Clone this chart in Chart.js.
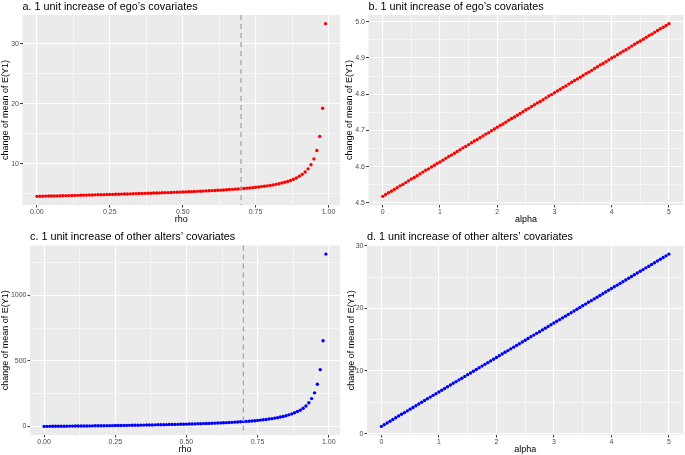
<!DOCTYPE html>
<html><head><meta charset="utf-8">
<script src="https://cdn.jsdelivr.net/npm/chart.js@4/dist/chart.umd.min.js"></script>
<style>
html,body{margin:0;padding:0;background:#fff;}
#wrap{position:relative;width:685px;height:455px;overflow:hidden;background:#fff;}
canvas{position:absolute;}
</style></head><body>
<div id="wrap">
<canvas id="cA" width="343" height="228" style="left:0px;top:0px;width:343px;height:228px"></canvas>
<canvas id="cB" width="342" height="228" style="left:343px;top:0px;width:342px;height:228px"></canvas>
<canvas id="cC" width="343" height="227" style="left:0px;top:228px;width:343px;height:227px"></canvas>
<canvas id="cD" width="342" height="227" style="left:343px;top:228px;width:342px;height:227px"></canvas>
</div>
<script>
// ---------------- data ----------------
const rhoValues = [0.00,0.01,0.02,0.03,0.04,0.05,0.06,0.07,0.08,0.09,
  0.10,0.11,0.12,0.13,0.14,0.15,0.16,0.17,0.18,0.19,
  0.20,0.21,0.22,0.23,0.24,0.25,0.26,0.27,0.28,0.29,
  0.30,0.31,0.32,0.33,0.34,0.35,0.36,0.37,0.38,0.39,
  0.40,0.41,0.42,0.43,0.44,0.45,0.46,0.47,0.48,0.49,
  0.50,0.51,0.52,0.53,0.54,0.55,0.56,0.57,0.58,0.59,
  0.60,0.61,0.62,0.63,0.64,0.65,0.66,0.67,0.68,0.69,
  0.70,0.71,0.72,0.73,0.74,0.75,0.76,0.77,0.78,0.79,
  0.80,0.81,0.82,0.83,0.84,0.85,0.86,0.87,0.88,0.89,
  0.90,0.91,0.92,0.93,0.94,0.95,0.96,0.97,0.98,0.99];

const egoByRho = [4.52,4.53,4.54,4.56,4.57,4.58,4.59,4.60,4.62,4.63,
  4.64,4.65,4.67,4.68,4.69,4.70,4.72,4.73,4.74,4.76,
  4.77,4.78,4.80,4.81,4.82,4.84,4.85,4.87,4.88,4.90,
  4.91,4.92,4.94,4.95,4.97,4.99,5.00,5.02,5.03,5.05,
  5.07,5.08,5.10,5.12,5.14,5.15,5.17,5.19,5.21,5.23,
  5.25,5.27,5.29,5.31,5.33,5.36,5.38,5.40,5.43,5.45,
  5.48,5.51,5.53,5.56,5.59,5.63,5.66,5.69,5.73,5.76,
  5.80,5.84,5.89,5.93,5.98,6.04,6.09,6.15,6.21,6.28,
  6.36,6.44,6.53,6.63,6.75,6.87,7.01,7.18,7.37,7.59,
  7.88,8.20,8.60,9.12,9.80,10.78,12.18,14.52,19.25,33.40];

const altersByRho = [1.1,1.3,1.5,1.7,2.0,2.2,2.4,2.7,2.9,3.1,
  3.4,3.6,3.9,4.1,4.4,4.6,4.9,5.2,5.4,5.7,
  6.0,6.3,6.6,6.9,7.2,7.5,7.8,8.1,8.5,8.8,
  9.2,9.5,9.9,10.2,10.6,11.0,11.4,11.8,12.2,12.7,
  13.1,13.6,14.0,14.5,15.0,15.5,16.0,16.6,17.1,17.7,
  18.3,18.9,19.6,20.2,20.9,21.6,22.4,23.2,24.0,24.8,
  25.7,26.6,27.6,28.6,29.7,30.8,32.0,33.3,34.6,36.0,
  37.5,39.1,40.8,42.6,44.6,46.7,49.0,51.5,54.1,57.1,
  60.3,63.9,67.8,72.2,77.1,82.7,89.1,96.4,104.9,115.0,
  125.0,139.0,157.0,181.0,213.0,257.0,323.0,434.0,655.0,1316.0];

const alphaValues = [0,0.05,0.1,0.15,0.2,0.25,0.3,0.35,0.4,0.45,
  0.5,0.55,0.6,0.65,0.7,0.75,0.8,0.85,0.9,0.95,
  1,1.05,1.1,1.15,1.2,1.25,1.3,1.35,1.4,1.45,
  1.5,1.55,1.6,1.65,1.7,1.75,1.8,1.85,1.9,1.95,
  2,2.05,2.1,2.15,2.2,2.25,2.3,2.35,2.4,2.45,
  2.5,2.55,2.6,2.65,2.7,2.75,2.8,2.85,2.9,2.95,
  3,3.05,3.1,3.15,3.2,3.25,3.3,3.35,3.4,3.45,
  3.5,3.55,3.6,3.65,3.7,3.75,3.8,3.85,3.9,3.95,
  4,4.05,4.1,4.15,4.2,4.25,4.3,4.35,4.4,4.45,
  4.5,4.55,4.6,4.65,4.7,4.75,4.8,4.85,4.9,4.95,5];

const egoByAlpha = [4.518,4.523,4.528,4.532,4.537,4.542,4.547,4.551,4.556,4.561,
  4.566,4.570,4.575,4.580,4.585,4.590,4.594,4.599,4.604,4.609,
  4.613,4.618,4.623,4.628,4.632,4.637,4.642,4.647,4.652,4.656,
  4.661,4.666,4.671,4.675,4.680,4.685,4.690,4.694,4.699,4.704,
  4.709,4.714,4.718,4.723,4.728,4.733,4.737,4.742,4.747,4.752,
  4.757,4.761,4.766,4.771,4.776,4.780,4.785,4.790,4.795,4.799,
  4.804,4.809,4.814,4.819,4.823,4.828,4.833,4.838,4.842,4.847,
  4.852,4.857,4.861,4.866,4.871,4.876,4.881,4.885,4.890,4.895,
  4.900,4.904,4.909,4.914,4.919,4.923,4.928,4.933,4.938,4.943,
  4.947,4.952,4.957,4.962,4.966,4.971,4.976,4.981,4.985,4.990,4.995];

const altersByAlpha = [1.15,1.43,1.70,1.98,2.25,2.53,2.80,3.08,3.35,3.63,
  3.91,4.18,4.46,4.73,5.01,5.28,5.56,5.83,6.11,6.38,
  6.66,6.94,7.21,7.49,7.76,8.04,8.31,8.59,8.86,9.14,
  9.42,9.69,9.97,10.24,10.52,10.79,11.07,11.34,11.62,11.89,
  12.17,12.45,12.72,13.00,13.27,13.55,13.82,14.10,14.37,14.65,
  14.93,15.20,15.48,15.75,16.03,16.30,16.58,16.85,17.13,17.40,
  17.68,17.96,18.23,18.51,18.78,19.06,19.33,19.61,19.88,20.16,
  20.44,20.71,20.99,21.26,21.54,21.81,22.09,22.36,22.64,22.91,
  23.19,23.47,23.74,24.02,24.29,24.57,24.84,25.12,25.39,25.67,
  25.95,26.22,26.50,26.77,27.05,27.32,27.60,27.87,28.15,28.42,28.70];

const rhoCutoff = 0.7;

// tick values and labels
const rhoTicks = [0, 0.25, 0.5, 0.75, 1];
const rhoTickLabels = ["0.00","0.25","0.50","0.75","1.00"];
const rhoMinor = [0.125, 0.375, 0.625, 0.875];
const alphaTicks = [0,1,2,3,4,5];
const alphaTickLabels = ["0","1","2","3","4","5"];
const alphaMinor = [0.5,1.5,2.5,3.5,4.5];
const yTicksA = [10,20,30];
const yTickLabelsA = ["10","20","30"];
const yMinorA = [5,15,25];
const yTicksB = [4.5,4.6,4.7,4.8,4.9,5.0];
const yTickLabelsB = ["4.5","4.6","4.7","4.8","4.9","5.0"];
const yMinorB = [4.55,4.65,4.75,4.85,4.95];
const yTicksC = [0,500,1000];
const yTickLabelsC = ["0","500","1000"];
const yMinorC = [250,750,1250];
const yTicksD = [0,10,20,30];
const yTickLabelsD = ["0","10","20","30"];
const yMinorD = [5,15,25];

const titles = ["a. 1 unit increase of ego\u2019s covariates",
                "b. 1 unit increase of ego\u2019s covariates",
                "c. 1 unit increase of other alters\u2019 covariates",
                "d. 1 unit increase of other alters\u2019 covariates"];
const yTitle = "change of mean of E(Y1)";

// ---------------- drawing ----------------
const FONT = "'Liberation Sans', Arial, Helvetica, sans-serif";
function near(v, arr){ return arr.findIndex(a => Math.abs(a - v) < 1e-9); }
function expandRange(arr){ const lo = Math.min(...arr), hi = Math.max(...arr), p = (hi - lo) * 0.05; return {min: lo - p, max: hi + p}; }

const panelBg = { id:'panelBg', beforeDraw(chart){ const {ctx, chartArea:a} = chart; ctx.save(); ctx.fillStyle = '#EBEBEB'; ctx.fillRect(a.left, a.top, a.right - a.left, a.bottom - a.top); ctx.restore(); } };
const panelTitle = { id:'panelTitle', afterDraw(chart, args, opts){ const {ctx, chartArea:a} = chart; ctx.save(); ctx.font = '10.8px ' + FONT; ctx.fillStyle = '#000'; ctx.textAlign = 'left'; ctx.textBaseline = 'alphabetic'; ctx.fillText(opts.text, a.left, a.top - 5.2); ctx.restore(); } };
const vline = { id:'vline', afterDatasetsDraw(chart, args, opts){ if (opts.value == null) return; const {ctx, chartArea:a, scales} = chart; const px = scales.x.getPixelForValue(opts.value); ctx.save(); ctx.strokeStyle = '#A9A9A9'; ctx.lineWidth = 1.4; ctx.setLineDash([5,4]); ctx.beginPath(); ctx.moveTo(px, a.top); ctx.lineTo(px, a.bottom); ctx.stroke(); ctx.restore(); } };

function axis(o){
  const range = expandRange(o.data);
  const all = [...o.major, ...o.minor].filter(v => v >= range.min && v <= range.max).sort((a,b) => a - b);
  return {
    type:'linear', bounds:'data', min:range.min, max:range.max,
    afterBuildTicks: sc => { sc.ticks = all.map(v => ({value:v})); },
    afterFit: sc => { if (o.horizontal) sc.height = o.size; else sc.width = o.size; },
    border:{display:false},
    grid:{ color:'#FFFFFF', drawTicks:true, tickLength:2.5, tickWidth:1,
      lineWidth: c => (c.tick && near(c.tick.value, o.major) >= 0) ? 1.1 : 0.55,
      tickColor: c => (c.tick && near(c.tick.value, o.major) >= 0) ? '#333333' : 'rgba(0,0,0,0)' },
    ticks:{ autoSkip:false, maxRotation:0, minRotation:0, padding: o.horizontal ? 0 : 1,
      color:'#4D4D4D', font:{family:FONT, size:7}, 
      callback: v => { const i = near(v, o.major); return i >= 0 ? o.labels[i] : ''; } },
    title:{ display:true, text:o.title, color:'#000', font:{family:FONT, size:9},
      padding: o.horizontal ? {top:0, bottom:o.titlePad} : {top:o.titlePad, bottom:0} }
  };
}

function makeChart(id, d){
  new Chart(document.getElementById(id), {
    type:'scatter',
    data:{ datasets:[{ data: d.xs.map((x,i) => ({x:x, y:d.ys[i]})),
      pointBackgroundColor:d.color, pointBorderColor:d.color, pointBorderWidth:0,
      pointRadius:1.7, pointHoverRadius:1.7, showLine:false }] },
    options:{ responsive:false, animation:false, devicePixelRatio:1, events:[],
      layout:{ padding:{ top:d.top, right:d.right, left:0, bottom:0 } },
      plugins:{ legend:{display:false}, tooltip:{enabled:false}, panelTitle:{text:d.title}, vline:{value:d.vline} },
      scales:{
        x: axis({data:d.xs, major:d.xMajor, labels:d.xLabels, minor:d.xMinor, title:d.xTitle, horizontal:true, size:d.xSize, titlePad:d.xTitlePad}),
        y: axis({data:d.ys, major:d.yMajor, labels:d.yLabels, minor:d.yMinor, title:yTitle, horizontal:false, size:d.ySize, titlePad:d.yTitlePad})
      }
    },
    plugins:[panelBg, panelTitle, vline]
  });
}

makeChart('cA', {xs:rhoValues, ys:egoByRho, color:'#FF0000', title:titles[0], vline:rhoCutoff,
  xMajor:rhoTicks, xLabels:rhoTickLabels, xMinor:rhoMinor, xTitle:'rho',
  yMajor:yTicksA, yLabels:yTickLabelsA, yMinor:yMinorA,
  top:15, right:3, xSize:23, ySize:22.5, xTitlePad:2.8, yTitlePad:0});
makeChart('cB', {xs:alphaValues, ys:egoByAlpha, color:'#FF0000', title:titles[1], vline:null,
  xMajor:alphaTicks, xLabels:alphaTickLabels, xMinor:alphaMinor, xTitle:'alpha',
  yMajor:yTicksB, yLabels:yTickLabelsB, yMinor:yMinorB,
  top:15, right:0, xSize:23, ySize:25.5, xTitlePad:2.8, yTitlePad:1.6});
makeChart('cC', {xs:rhoValues, ys:altersByRho, color:'#0000FF', title:titles[2], vline:rhoCutoff,
  xMajor:rhoTicks, xLabels:rhoTickLabels, xMinor:rhoMinor, xTitle:'rho',
  yMajor:yTicksC, yLabels:yTickLabelsC, yMinor:yMinorC,
  top:17.5, right:3, xSize:20, ySize:30, xTitlePad:0.3, yTitlePad:0});
makeChart('cD', {xs:alphaValues, ys:altersByAlpha, color:'#0000FF', title:titles[3], vline:null,
  xMajor:alphaTicks, xLabels:alphaTickLabels, xMinor:alphaMinor, xTitle:'alpha',
  yMajor:yTicksD, yLabels:yTickLabelsD, yMinor:yMinorD,
  top:17.5, right:0, xSize:20, ySize:24, xTitlePad:0.3, yTitlePad:3});
</script>
</body></html>
